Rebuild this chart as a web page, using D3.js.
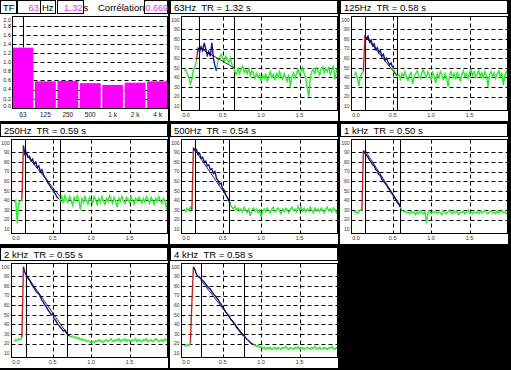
<!DOCTYPE html>
<html>
<head>
<meta charset="utf-8">
<script src="https://cdn.jsdelivr.net/npm/d3@7"></script>
<style>
body { margin: 0; background: #000; }
svg { display: block; font-family: "Liberation Sans", Arial, sans-serif; }
</style>
</head>
<body>
<div class="chart"></div>
<script>
const w = 511;
const h = 370;

// octave bands and reverberation times
const bands = ["63", "125", "250", "500", "1 k", "2 k", "4 k"];
const titles = ["63Hz", "125Hz", "250Hz", "500Hz", "1 kHz", "2 kHz", "4 kHz"];
const tr = [1.32, 0.58, 0.59, 0.54, 0.50, 0.55, 0.58];
const trTicks = [2.0, 1.8, 1.6, 1.4, 1.2, 1.0, 0.8, 0.6, 0.4, 0.2, 0.0];
const levelTicks = [100, 90, 80, 70, 60, 50, 40, 30, 20, 10];
const levelGrid = [90, 80, 70, 60, 50, 40, 30, 20];
const timeTicks = [0.0, 0.5, 1.0, 1.5];
const correlation = "0.669";

// decay curves, dB, one value every 0.02 s from 0 to 2 s
const step = 0.02;
const lvl63 = [47,48,44,40,33,38,48,51,58,71,66,72,68,76,70,63,67,62,76,60,
  52,47,58,61,64,60,57,62,58,55,60,54,50,46,43,50,44,49,52,45,
  48,44,50,42,47,45,38,44,40,43,36,42,39,44,35,41,46,40,43,37,
  44,40,46,41,38,44,40,36,43,30,41,45,39,44,48,43,46,50,44,40,
  28,20,40,46,49,44,50,47,42,49,51,45,49,46,51,42,48,52,38,47,50];
const lvl125 = [42,45,40,31,41,44,46,84,80,83,77,79,73,75,69,71,66,68,62,64,
  58,60,56,53,55,50,47,44,41,43,38,44,41,46,40,37,43,45,33,41,
  44,47,42,39,45,48,43,40,46,42,38,45,41,34,44,40,46,43,37,44,
  41,30,42,46,40,44,38,45,42,36,43,47,41,44,38,45,48,42,46,40,
  44,47,41,45,39,46,42,30,43,46,41,45,39,44,47,40,45,32,43,46,41];
const lvl250 = [38,40,16,37,39,41,97,88,90,85,86,81,83,78,80,74,76,70,72,67,
  64,62,58,56,53,51,48,46,43,42,40,44,37,45,41,38,44,40,35,43,
  39,45,41,30,42,38,44,40,36,43,40,37,44,41,35,42,38,44,40,36,
  42,39,45,41,37,43,38,33,42,39,44,40,37,43,41,38,44,40,36,42,
  39,43,40,37,42,38,44,41,37,43,40,36,42,39,44,40,37,42,39,31,41];
const lvl500 = [31,28,32,29,33,30,95,92,93,88,89,84,85,80,81,76,77,72,73,68,
  70,63,61,57,58,52,51,46,43,40,36,33,31,34,30,32,29,31,28,33,
  30,27,31,24,30,32,29,31,27,30,22,29,31,28,32,29,27,31,33,28,
  30,32,29,26,31,28,32,30,27,31,33,29,31,28,34,30,33,29,32,28,
  31,29,33,30,27,32,29,31,28,32,30,27,31,33,29,31,28,32,30,27,30];
const lvl1k = [27,29,26,28,30,29,92,89,87,85,82,80,77,76,72,71,67,66,62,60,
  58,56,53,51,48,46,43,41,38,36,33,30,28,29,27,28,26,29,27,28,
  25,28,26,29,27,26,28,16,27,29,26,28,27,29,26,28,27,25,29,28,
  26,28,30,27,26,29,27,28,25,28,27,29,26,28,30,27,28,26,29,27,
  28,26,29,27,28,30,27,26,28,29,27,28,26,29,27,28,30,27,28,26,28];
const lvl2k = [22,24,23,25,24,26,100,94,91,88,86,83,80,78,75,73,72,69,65,63,
  60,58,55,53,50,51,46,44,41,39,37,35,33,34,31,29,28,27,28,26,
  27,25,26,24,25,23,24,22,23,22,21,22,21,23,22,24,22,23,21,23,
  24,22,23,25,23,22,24,23,25,22,24,23,25,22,24,23,22,24,23,25,
  22,24,23,22,24,23,25,22,23,24,22,23,25,24,22,23,24,22,25,23,24];
const lvl4k = [18,17,19,18,20,62,100,97,92,90,89,87,86,84,82,80,78,77,74,72,
  70,68,66,63,61,58,56,53,51,49,46,44,42,40,37,35,33,31,29,28,
  26,24,23,21,20,19,18,17,18,16,17,15,16,14,16,15,16,14,15,16,
  14,16,15,14,16,15,17,15,14,16,15,14,16,15,17,14,15,16,14,15,
  16,15,14,16,15,17,15,14,16,15,14,16,15,14,16,15,17,15,14,16,15];

// sample indexes where the curve turns red (rise), blue (decay) and green again
const riseStart = [8, 6, 5, 5, 5, 5, 4];
const peakIdx = [9, 7, 6, 6, 6, 6, 6];
const decayEnd = [21, 25, 29, 30, 30, 36, 45];

// evaluation cursors (s) and fitted line levels (dB)
const cursorA = [0.196, 0.144, 0.144, 0.144, 0.144, 0.153, 0.218];
const cursorB = [0.648, 0.553, 0.596, 0.587, 0.596, 0.683, 0.778];
const fitA = [71, 83, 89, 92, 92, 92, 86];
const fitB = [50, 42, 44, 40, 35, 31, 28];

const levels = [lvl63, lvl125, lvl250, lvl500, lvl1k, lvl2k, lvl4k];

const green = "#30e830";
const blue = "#14148c";
const red = "#c82020";
const magenta = "#ff00ff";
const pink = "#e040e0";

const pw = 168, ph = 121;

const svg = d3.select(".chart")
  .append("svg")
  .attr("width", w)
  .attr("height", h);

svg.append("rect").attr("width", w).attr("height", h).attr("fill", "#000");

function cell(k) {
  const col = k % 3, row = Math.floor(k / 3);
  return svg.append("g")
    .attr("transform", `translate(${col * 170},${Math.round(row * 123.3)})`);
}

// ---------- bar chart panel ----------
const g0 = cell(0);
g0.append("rect").attr("width", pw).attr("height", ph).attr("fill", "#fff");

const hdr = g0.append("g").style("font-size", "9.5px");
const box = (x, bw) => hdr.append("rect")
  .attr("x", x).attr("y", 0.5).attr("width", bw).attr("height", 13)
  .attr("fill", "#fff").attr("stroke", "#000").attr("shape-rendering", "crispEdges");
box(0.5, 15.5);
box(17.5, 23);
box(40.5, 15);
box(57.5, 26);
box(144.5, 23);
hdr.append("text").attr("x", 3).attr("y", 10.5).text("TF");
hdr.append("text").attr("x", 39).attr("y", 10.5).attr("text-anchor", "end").attr("fill", pink).text(bands[0]);
hdr.append("text").attr("x", 42).attr("y", 10.5).text("Hz");
hdr.append("text").attr("x", 82.5).attr("y", 10.5).attr("text-anchor", "end").attr("fill", pink).text(tr[0].toFixed(2));
hdr.append("text").attr("x", 83.5).attr("y", 10.5).text("s");
hdr.append("text").attr("x", 98).attr("y", 10.5).text("Corrélation");
hdr.append("text").attr("x", 168).attr("y", 10.5).attr("text-anchor", "end")
  .style("font-size", "9px").attr("fill", pink).text(correlation);

const bx = d3.scaleBand().domain(bands).range([12.5, 168]).paddingInner(0.07);
const by = d3.scaleLinear().domain([0, 2]).range([107.7, 16.7]);

g0.append("g").selectAll("line")
  .data(trTicks.filter(d => d > 0 && d < 2))
  .enter().append("line")
  .attr("x1", 12.5).attr("x2", 168)
  .attr("y1", d => Math.round(by(d)) + 0.5).attr("y2", d => Math.round(by(d)) + 0.5)
  .attr("stroke", "#000").attr("stroke-dasharray", "4,3");

g0.append("line")
  .attr("x1", Math.round(bx(bands[0]) + bx.bandwidth() / 2) + 0.5)
  .attr("x2", Math.round(bx(bands[0]) + bx.bandwidth() / 2) + 0.5)
  .attr("y1", 16.7).attr("y2", by(tr[0]))
  .attr("stroke", "#000");

g0.append("g").selectAll("rect")
  .data(tr)
  .enter().append("rect")
  .attr("x", (d, i) => bx(bands[i]))
  .attr("width", bx.bandwidth())
  .attr("y", d => by(d))
  .attr("height", d => by(0) - by(d) + 0.5)
  .attr("fill", magenta);

g0.append("rect").attr("x", 12.5).attr("y", 16.5).attr("width", 155).attr("height", 91.5)
  .attr("fill", "none").attr("stroke", "#000").attr("shape-rendering", "crispEdges");

g0.append("g").selectAll("text")
  .data(trTicks)
  .enter().append("text")
  .attr("x", 11).attr("y", d => Math.max(20, Math.min(106, by(d))))
  .attr("dy", "0.35em").attr("text-anchor", "end")
  .style("font-size", "5.5px").attr("fill", "#222")
  .text(d => d.toFixed(1));

g0.append("g").selectAll("text")
  .data(bands)
  .enter().append("text")
  .attr("x", d => bx(d) + bx.bandwidth() / 2).attr("y", 116.5)
  .attr("text-anchor", "middle")
  .style("font-size", "6.5px").attr("fill", "#222")
  .text(d => d);

// ---------- decay panels ----------
const x = d3.scaleLinear().domain([-0.035, 2.0]).range([11.5, 168]);
const y = d3.scaleLinear().domain([6, 104]).range([110, 16]);
const line = d3.line().x(d => x(d.t)).y(d => y(d.v));

levels.forEach((lvl, k) => {
  const g = cell(k + 1);
  g.append("rect").attr("width", pw).attr("height", ph).attr("fill", "#fff");

  g.append("rect").attr("x", 0.5).attr("y", 0.5).attr("width", 167).attr("height", 13)
    .attr("fill", "#fff").attr("stroke", "#000").attr("shape-rendering", "crispEdges");
  g.append("text").attr("x", 4).attr("y", 10.5)
    .style("font-size", "9.5px").style("white-space", "pre")
    .text(`${titles[k]}  TR = ${tr[k].toFixed(2)} s`);

  const clipId = "clip" + k;
  g.append("clipPath").attr("id", clipId)
    .append("rect").attr("x", 11.5).attr("y", 16.5).attr("width", 156).attr("height", 93.5);

  const plot = g.append("g").attr("clip-path", `url(#${clipId})`);

  plot.append("g").selectAll("line")
    .data(levelGrid)
    .enter().append("line")
    .attr("x1", 11.5).attr("x2", 168)
    .attr("y1", d => Math.round(y(d)) + 0.5).attr("y2", d => Math.round(y(d)) + 0.5)
    .attr("stroke", "#000").attr("stroke-dasharray", "4,3");
  plot.append("g").selectAll("line")
    .data(timeTicks.filter(d => d > 0))
    .enter().append("line")
    .attr("x1", d => Math.round(x(d)) + 0.5).attr("x2", d => Math.round(x(d)) + 0.5)
    .attr("y1", 16.5).attr("y2", 110)
    .attr("stroke", "#000").attr("stroke-dasharray", "4,3");

  [cursorA[k], cursorB[k]].forEach(c => {
    plot.append("line")
      .attr("x1", Math.round(x(c)) + 0.5).attr("x2", Math.round(x(c)) + 0.5)
      .attr("y1", 16.5).attr("y2", 110)
      .attr("stroke", "#000");
  });

  const pts = lvl.map((v, i) => ({ t: i * step, v: v }));
  const segs = [
    [pts.slice(0, riseStart[k] + 1), green],
    [pts.slice(decayEnd[k]), green],
    [pts.slice(riseStart[k], peakIdx[k] + 1), red],
    [pts.slice(peakIdx[k], decayEnd[k] + 1), blue]
  ];
  segs.forEach(([s, col]) => {
    plot.append("path").datum(s)
      .attr("d", line)
      .attr("fill", "none")
      .attr("stroke", col)
      .attr("stroke-width", 1.4);
  });

  plot.append("path")
    .datum([{ t: cursorA[k], v: fitA[k] }, { t: cursorB[k], v: fitB[k] }])
    .attr("d", line).attr("fill", "none").attr("stroke", "#000").attr("stroke-width", 0.8);

  g.append("rect").attr("x", 11.5).attr("y", 16.5).attr("width", 156).attr("height", 93.5)
    .attr("fill", "none").attr("stroke", "#000").attr("shape-rendering", "crispEdges");

  g.append("g").selectAll("text")
    .data(levelTicks)
    .enter().append("text")
    .attr("x", 9.5).attr("y", d => y(d))
    .attr("dy", "0.35em").attr("text-anchor", "end")
    .style("font-size", "5px").attr("fill", "#333")
    .text(d => d);

  g.append("g").selectAll("text")
    .data(timeTicks)
    .enter().append("text")
    .attr("x", d => Math.max(16, x(d))).attr("y", 116.5)
    .attr("text-anchor", "middle")
    .style("font-size", "5.5px").attr("fill", "#333")
    .text(d => d.toFixed(1));
});
</script>
</body>
</html>
